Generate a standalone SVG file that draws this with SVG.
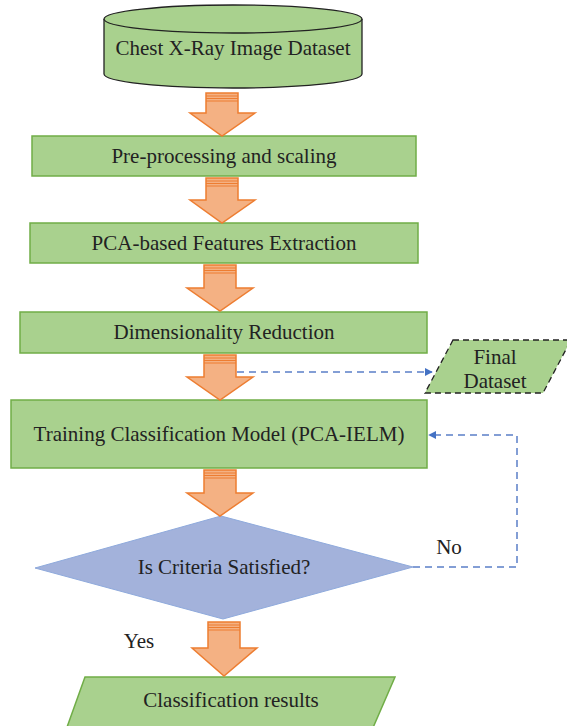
<svg xmlns="http://www.w3.org/2000/svg" width="567" height="726" viewBox="0 0 567 726">
<defs>
<style>
.box{fill:#a9d18e;stroke:#70ad47;stroke-width:1.5}
.cyl{fill:#a9d18e;stroke:#222;stroke-width:1.3}
.arr{fill:#f4b183;stroke:#ed7d31;stroke-width:1.5;stroke-linejoin:miter}
.stripe{stroke:#ed7d31;stroke-width:1}
.dash{fill:none;stroke:#5b7fc7;stroke-width:1.5;stroke-dasharray:7 5}
.t{font-family:"Liberation Serif","Times New Roman",serif;font-size:21px;fill:#222;text-anchor:middle}
</style>
<marker id="ah" viewBox="0 0 10 10" refX="9" refY="5" markerWidth="8" markerHeight="8" markerUnits="userSpaceOnUse" orient="auto">
<path d="M0,0 L10,5 L0,10 z" fill="#4472c4"/>
</marker>
</defs>

<g id="dataset">
<path class="cyl" d="M104,19 L104,74 A129,14 0 0 0 362,74 L362,19"/>
<ellipse class="cyl" cx="233" cy="19" rx="129" ry="14"/>
<text class="t" x="233" y="55">Chest X-Ray Image Dataset</text>
</g>

<g id="preprocess">
<rect class="box" x="32" y="136" width="384" height="40"/>
<text class="t" x="224" y="163">Pre-processing and scaling</text>
</g>

<g id="pca">
<rect class="box" x="30" y="223" width="388" height="40"/>
<text class="t" x="224" y="250">PCA-based Features Extraction</text>
</g>

<g id="dimred">
<rect class="box" x="20" y="312" width="407" height="41"/>
<text class="t" x="224" y="339">Dimensionality Reduction</text>
</g>

<g id="finaldataset">
<path d="M453,340 L571,340 L543,393 L425,393 z" fill="#a9d18e" stroke="#222" stroke-width="1.3" stroke-dasharray="6 4"/>
<text class="t" x="495" y="364">Final</text>
<text class="t" x="495" y="388">Dataset</text>
</g>

<g id="training">
<rect class="box" x="11" y="400" width="416" height="68"/>
<text class="t" x="219" y="441">Training Classification Model (PCA-IELM)</text>
</g>

<g id="decision">
<path d="M221,516 L413,567 L223,619 L35,568 z" fill="#a3b2db" stroke="#8faadc" stroke-width="1"/>
<text class="t" x="224" y="574">Is Criteria Satisfied?</text>
</g>

<g id="results">
<path class="box" d="M85,677 L395,677 L372,730 L66,730 z"/>
<text class="t" x="231" y="707">Classification results</text>
</g>

<g id="connectors">
<g id="arrow1">
<path class="arr" d="M206,93 L238,93 L238,113 L255,113 L222,136 L190,113 L206,113 z"/>
<line class="stripe" x1="206" y1="96" x2="238" y2="96"/><line class="stripe" x1="206" y1="98.5" x2="238" y2="98.5"/><line class="stripe" x1="206" y1="101" x2="238" y2="101"/>
</g>
<g id="arrow2">
<path class="arr" d="M206,178 L238,178 L238,200 L255,200 L222,223 L190,200 L206,200 z"/>
<line class="stripe" x1="206" y1="181" x2="238" y2="181"/><line class="stripe" x1="206" y1="183.5" x2="238" y2="183.5"/><line class="stripe" x1="206" y1="186" x2="238" y2="186"/>
</g>
<g id="arrow3">
<path class="arr" d="M204,265 L236,265 L236,288 L253,288 L220,311 L187,288 L204,288 z"/>
<line class="stripe" x1="204" y1="268" x2="236" y2="268"/><line class="stripe" x1="204" y1="270.5" x2="236" y2="270.5"/><line class="stripe" x1="204" y1="273" x2="236" y2="273"/>
</g>
<g id="arrow4">
<path class="arr" d="M204,355 L236,355 L236,377 L253,377 L220,400 L187,377 L204,377 z"/>
<line class="stripe" x1="204" y1="358" x2="236" y2="358"/><line class="stripe" x1="204" y1="360.5" x2="236" y2="360.5"/><line class="stripe" x1="204" y1="363" x2="236" y2="363"/>
</g>
<g id="arrow5">
<path class="arr" d="M204,470 L236,470 L236,493 L253,493 L220,516 L187,493 L204,493 z"/>
<line class="stripe" x1="204" y1="473" x2="236" y2="473"/><line class="stripe" x1="204" y1="475.5" x2="236" y2="475.5"/><line class="stripe" x1="204" y1="478" x2="236" y2="478"/>
</g>
<g id="arrow6">
<path class="arr" d="M208,622 L240,622 L240,648 L257,648 L224,676 L192,648 L208,648 z"/>
<line class="stripe" x1="208" y1="625" x2="240" y2="625"/><line class="stripe" x1="208" y1="627.5" x2="240" y2="627.5"/><line class="stripe" x1="208" y1="630" x2="240" y2="630"/>
</g>
<path class="dash" d="M237,372 L432,372" marker-end="url(#ah)"/>
<path class="dash" d="M413,567 L517,567 L517,435 L429,435" marker-end="url(#ah)"/>
<text class="t" x="449" y="554">No</text>
<text class="t" x="139" y="648">Yes</text>
</g>
</svg>
